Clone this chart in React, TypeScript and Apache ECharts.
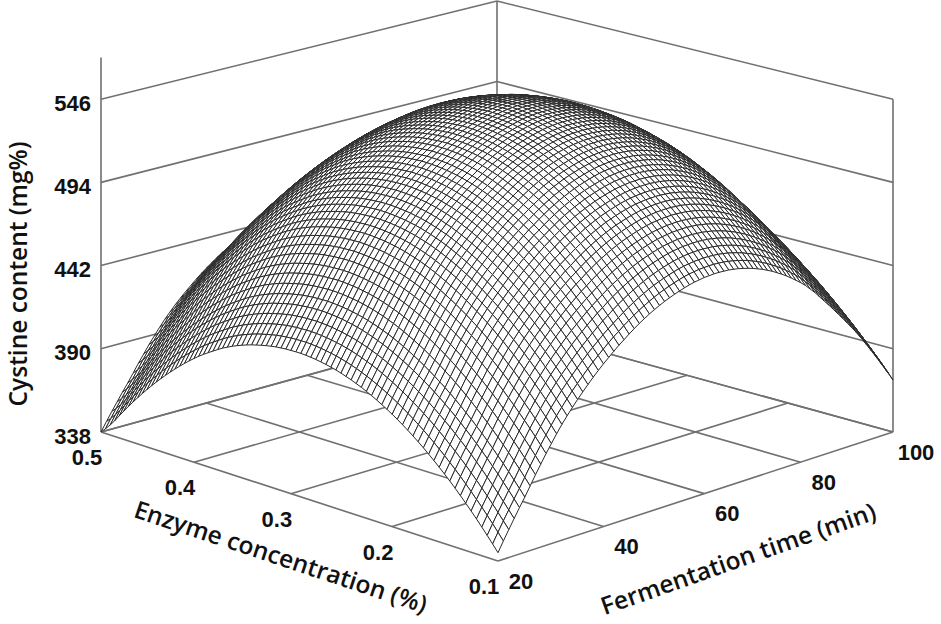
import React, { useEffect, useRef } from "react";
import * as echarts from "echarts";

// Axis ticks as printed in the reference
const enzymeTicks = [0.5, 0.4, 0.3, 0.2, 0.1];
const timeTicks = [20, 40, 60, 80, 100];
const cystineTicks = [338, 390, 442, 494, 546];

// Surface model, NOT a cell-by-cell reading of the picture:
//   cystine = baseline + enzymeProfile[i] + timeProfile[j] + crossTerm * (share of enzyme range) * (share of time range)
// The two profiles are estimates read from the surface's two front edges, one value per mesh line (81 x 81 lines).
// crossTerm is an estimate fitted so that the dome's outline and top match the reference.
const baseline = 338;
const crossTerm = -36;
const enzymeProfile = [
  0, 4.2, 8.3, 12.3, 16.2, 19.9, 23.6, 27.1, 30.6, 33.9, 37.1, 40.2, 43.2, 46.1, 48.9, 51.6, 54.1, 56.6, 58.9, 61.2,
  63.3, 65.3, 67.2, 69, 70.7, 72.3, 73.8, 75.1, 76.4, 77.5, 78.6, 79.5, 80.3, 81, 81.6, 82.1, 82.5, 82.8, 83, 83,
  82.9, 82.8, 82.5, 82.2, 81.7, 81.1, 80.4, 79.6, 78.8, 77.8, 76.7, 75.5, 74.2, 72.7, 71.2, 69.4, 67.5, 65.6, 63.6,
  61.5, 59.2, 56.8, 54.3, 51.7, 49, 46.2, 43.3, 40.3, 37.2, 34, 30.7, 27.3, 23.8, 20.2, 16.5, 12.7, 8.8, 4.8, 1.2, -2, -5,
];
const timeProfile = [
  5, 11, 16.8, 22.4, 28, 33.3, 39, 44.7, 50.1, 55.5, 60.5, 65.4, 70.1, 74.3, 78.4, 82.2, 85.8, 89.3, 92.7, 95.9,
  98.9, 101.8, 104.6, 107.3, 109.7, 112.2, 114.5, 116.7, 118.7, 120.6, 122.3, 123.9, 125.4, 126.7, 127.9, 129, 130,
  130.9, 131.6, 132.1, 132.6, 132.8, 133, 133, 132.8, 132.6, 132.1, 131.6, 130.8, 130, 129, 127.8, 126.6, 125.1,
  123.6, 121.8, 120, 118, 115.8, 113.5, 111.1, 108.5, 105.4, 102.4, 98.8, 95.3, 91.8, 88.2, 84.5, 80.8, 77, 73.2,
  69.2, 65.2, 61, 56.7, 52.2, 47.5, 42.7, 37.7, 32.5,
];

const enzymeLabel = "Enzyme concentration (%)";
const timeLabel = "Fermentation time (min)";
const cystineLabel = "Cystine content (mg%)";

// Camera: floor corners on screen, and px per unit of cystine at each corner
const F = [498, 561], R = [893, 432], B = [497, 323], L = [101, 432];
const sF = 1.66, sL = 1.6, sR = 1.6, sB = 1.548;
const sx = F[0] - R[0] + B[0] - L[0], sy = F[1] - R[1] + B[1] - L[1];
const dx1 = R[0] - B[0], dx2 = L[0] - B[0], dy1 = R[1] - B[1], dy2 = L[1] - B[1];
const den = dx1 * dy2 - dx2 * dy1;
const hg = (sx * dy2 - dx2 * sy) / den, hh = (dx1 * sy - sx * dy1) / den;
const ha = R[0] - F[0] + hg * R[0], hb = L[0] - F[0] + hh * L[0];
const hd = R[1] - F[1] + hg * R[1], he = L[1] - F[1] + hh * L[1];

function project(enzyme: number, time: number, z: number) {
  const u = (enzyme - 0.1) / 0.4, v = (time - 20) / 80;
  const w = hg * v + hh * u + 1;
  const x = (ha * v + hb * u + F[0]) / w;
  const y = (hd * v + he * u + F[1]) / w;
  const s = sF * (1 - u) * (1 - v) + sR * (1 - u) * v + sL * u * (1 - v) + sB * u * v;
  return [x, y - s * (z - baseline)];
}
const nE = enzymeProfile.length - 1, nT = timeProfile.length - 1;
const vertex = (i: number, j: number) =>
  project(
    0.1 + (0.4 * i) / nE,
    20 + (80 * j) / nT,
    baseline + enzymeProfile[i] + timeProfile[j] + (crossTerm * i * j) / (nE * nT),
  );

// Back-to-front cell order so each nearer cell hides what lies behind it
const cells: number[][] = [];
for (let i = nE - 1; i >= 0; i--) for (let j = nT - 1; j >= 0; j--) cells.push([i, j]);

const LINE = "#707070";
const tickFont = "bold 22px 'Liberation Sans'";
const titleFont = "600 24.5px 'Open Sans'";

export default function App() {
  const ref = useRef<HTMLDivElement>(null);
  useEffect(() => {
    document.body.style.margin = "0";
    const chart = echarts.init(ref.current!, null, { renderer: "svg" });
    const seg = (api: any, a: number[], b: number[]) => {
      const p = api.coord(a), q = api.coord(b);
      return { type: "line", shape: { x1: p[0], y1: p[1], x2: q[0], y2: q[1] }, style: { stroke: LINE, lineWidth: 1.6 } };
    };
    const tickText = (api: any, a: number[], text: string, dx: number, dy: number, align: string) => {
      const p = api.coord(a);
      return {
        type: "text", x: p[0] + dx, y: p[1] + dy,
        style: { text, font: tickFont, fill: "#111", align, verticalAlign: "middle" },
      };
    };
    const eMin = enzymeTicks[4], eMax = enzymeTicks[0], tMin = timeTicks[0], tMax = timeTicks[4], zMin = cystineTicks[0];
    const frame = (_: any, api: any) => {
      const children: any[] = [];
      enzymeTicks.forEach((e) => {
        children.push(seg(api, project(e, tMin, zMin), project(e, tMax, zMin)));
        children.push(tickText(api, project(e, tMin, zMin), e.toFixed(1), -14, 25.5, "center"));
      });
      timeTicks.forEach((t) => {
        children.push(seg(api, project(eMin, t, zMin), project(eMax, t, zMin)));
        children.push(tickText(api, project(eMin, t, zMin), String(t), 23, 20, "center"));
      });
      cystineTicks.forEach((z) => {
        children.push(seg(api, project(eMax, tMin, z), project(eMax, tMax, z)));
        children.push(seg(api, project(eMax, tMax, z), project(eMin, tMax, z)));
        children.push(tickText(api, project(eMax, tMin, z), String(z), -10, 4, "right"));
      });
      const zTop = cystineTicks[4];
      children.push(seg(api, project(eMax, tMin, zMin), project(eMax, tMin, zTop + 26)));
      children.push(seg(api, project(eMin, tMax, zMin), project(eMin, tMax, zTop)));
      children.push(seg(api, project(eMax, tMax, zMin), project(eMax, tMax, zTop)));
      return { type: "group", children };
    };
    const cell = (_: any, api: any) => {
      const i = api.value(0), j = api.value(1);
      const pts = [vertex(i, j), vertex(i + 1, j), vertex(i + 1, j + 1), vertex(i, j + 1)].map((p) => api.coord(p));
      return { type: "polygon", shape: { points: pts }, style: { fill: "#fff", stroke: "#2a2a2a", lineWidth: 1 } };
    };
    chart.setOption({
      animation: false,
      backgroundColor: "#fff",
      grid: { left: 0, top: 0, width: 941, height: 624 },
      xAxis: { type: "value", min: 0, max: 941, show: false },
      yAxis: { type: "value", min: 0, max: 624, inverse: true, show: false },
      series: [
        { type: "custom", renderItem: frame, data: [[0, 0]], clip: false, silent: true, z: 1 },
        { type: "custom", renderItem: cell, data: cells, clip: false, silent: true, progressive: 0, z: 2 },
      ],
      graphic: [
        { type: "text", x: 17, y: 274, rotation: Math.PI / 2, style: { text: cystineLabel, font: titleFont, fill: "#111", align: "center", verticalAlign: "middle" } },
        { type: "text", x: 281, y: 556, rotation: -0.32, style: { text: enzymeLabel, font: titleFont, fill: "#111", align: "center", verticalAlign: "middle" } },
        { type: "text", x: 738, y: 558, rotation: 0.34, style: { text: timeLabel, font: titleFont, fill: "#111", align: "center", verticalAlign: "middle" } },
      ],
    });
    return () => chart.dispose();
  }, []);
  return <div ref={ref} style={{ width: 941, height: 624 }} />;
}
